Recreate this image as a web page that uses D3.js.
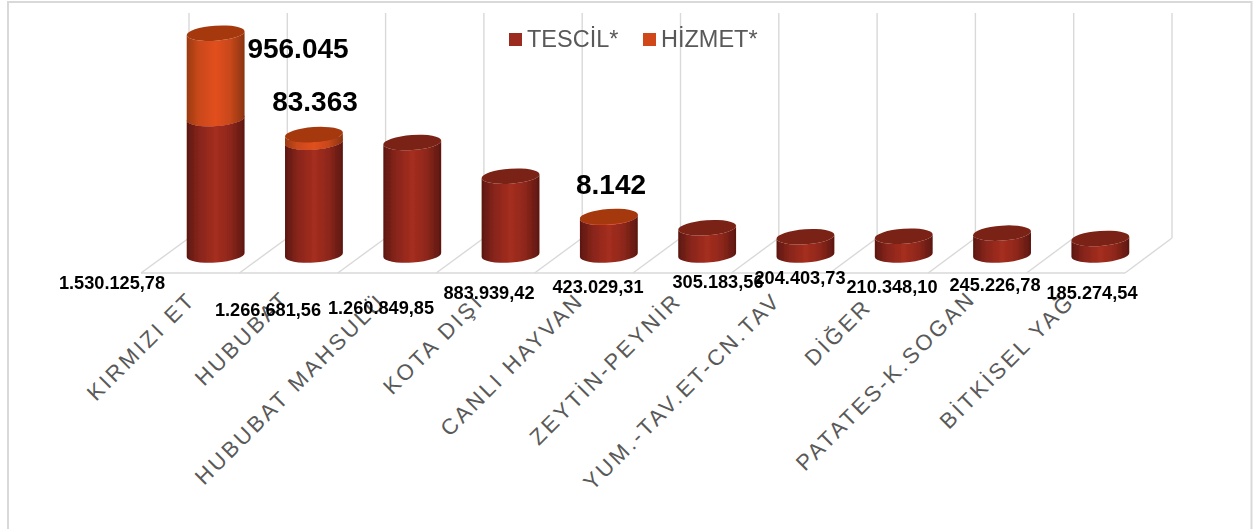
<!DOCTYPE html>
<html><head><meta charset="utf-8">
<script src="https://cdn.jsdelivr.net/npm/d3@7"></script>
<style>html,body{margin:0;padding:0;background:#fff}svg{display:block}</style></head>
<body><svg id="c" width="1253" height="529"></svg>
<script>
const categories = ["KIRMIZI ET","HUBUBAT","HUBUBAT MAHSULÜ","KOTA DIŞI","CANLI HAYVAN","ZEYTİN-PEYNİR","YUM.-TAV.ET-CN.TAV","DİĞER","PATATES-K.SOGAN","BİTKİSEL YAĞ"];
const tescil = [1530125.78,1266681.56,1260849.85,883939.42,423029.31,305183.56,204403.73,210348.10,245226.78,185274.54];
const hizmet = [956045,83363,0,0,8142,0,0,0,0,0];
const tescilLabels = ["1.530.125,78","1.266.681,56","1.260.849,85","883.939,42","423.029,31","305.183,56","204.403,73","210.348,10","245.226,78","185.274,54"];
const hizmetLabels = ["956.045","83.363","","","8.142","","","","",""];
const seriesNames = ["TESCİL*","HİZMET*"];
// manual placement offsets of the labels, as in the source chart
const tescilLabelPos = [[112,283],[268,310],[381,308],[489,293],[598,287],[718,282],[800,278],[892,287],[995,285],[1092,293]];
const hizmetLabelPos = [[298,48],[315,101],null,null,[611,184],null,null,null,null,null];
const tickEnd = [[197,301],[291,300],[387,303],[485,303],[585,302],[683,302],[782,302],[873,308],[977,300],[1076,303]];

const svg = d3.select("#c");
const font = "'Liberation Sans',Arial,sans-serif";
const x = d3.scaleBand().domain(categories).range([166.5,1149.5]).paddingInner(0.41).paddingOuter(0.205);
const y = d3.scaleLinear().domain([0,2500000]).range([255,32]);
const backX = d3.scaleBand().domain(categories).range([189,1172]);
const frontX = d3.scaleBand().domain(categories).range([141,1125]);
const stack = d3.stack().keys([0,1]).value((d,k)=>d[k])(categories.map((c,i)=>[tescil[i],hizmet[i]]));

const defs = svg.append("defs");
function grad(id,stops){
  const g = defs.append("linearGradient").attr("id",id).attr("x1",0).attr("x2",1).attr("y1",0).attr("y2",0);
  stops.forEach(s=>g.append("stop").attr("offset",s[0]).attr("stop-color",s[1]));
}
grad("gT",[[0,"#5c1710"],[0.2,"#85241a"],[0.5,"#a52e20"],[0.75,"#8e271b"],[1,"#5c1710"]]);
grad("gH",[[0,"#9a3a10"],[0.2,"#c8481a"],[0.5,"#e24f1b"],[0.75,"#c8481a"],[1,"#8a3410"]]);
const blur = defs.append("filter").attr("id","soft").attr("x","-5%").attr("y","-5%").attr("width","110%").attr("height","110%");
blur.append("feGaussianBlur").attr("stdDeviation",0.45);

// frame
svg.append("rect").attr("x",8).attr("y",2).attr("width",1243.5).attr("height",540).attr("fill","none").attr("stroke","#d9d9d9").attr("stroke-width",2);

// 3D floor + walls
const grid = svg.append("g").attr("stroke","#d9d9d9").attr("stroke-width",1.4).attr("fill","none");
const backEdges = categories.map(c=>backX(c)).concat([1172]);
const frontEdges = categories.map(c=>frontX(c)).concat([1125]);
backEdges.forEach((bx,i)=>{
  grid.append("line").attr("x1",bx).attr("x2",bx).attr("y1",13).attr("y2",238);
  grid.append("line").attr("x1",frontEdges[i]).attr("x2",bx).attr("y1",273).attr("y2",238);
});
grid.append("line").attr("x1",141).attr("x2",1125).attr("y1",273).attr("y2",273);

// cylinders
const rx = x.bandwidth()/2, ry = 7.5, tilt = -4;
const rad = tilt*Math.PI/180, dx = rx*Math.cos(rad), dy = rx*Math.sin(rad);
const marks = svg.append("g").attr("filter","url(#soft)");
function body(cx,y0,y1){
  return `M${cx-dx},${y0-dy} A${rx},${ry} ${tilt} 0 0 ${cx+dx},${y0+dy} L${cx+dx},${y1+dy} A${rx},${ry} ${tilt} 0 1 ${cx-dx},${y1-dy} Z`;
}
categories.forEach((c,i)=>{
  const cx = x(c)+rx;
  const s0 = stack[0][i], s1 = stack[1][i];
  marks.append("path").attr("d",body(cx,y(s0[0]),y(s0[1]))).attr("fill","url(#gT)");
  if(hizmet[i]>0){
    marks.append("ellipse").attr("cx",cx).attr("cy",y(s0[1])).attr("rx",rx).attr("ry",ry)
      .attr("transform",`rotate(${tilt} ${cx} ${y(s0[1])})`).attr("fill","#a52e20");
    marks.append("path").attr("d",body(cx,y(s0[1]),y(s1[1]))).attr("fill","url(#gH)");
    marks.append("ellipse").attr("cx",cx).attr("cy",y(s1[1])).attr("rx",rx).attr("ry",ry)
      .attr("transform",`rotate(${tilt} ${cx} ${y(s1[1])})`).attr("fill","#a5390f");
  } else {
    marks.append("ellipse").attr("cx",cx).attr("cy",y(s0[1])).attr("rx",rx).attr("ry",ry)
      .attr("transform",`rotate(${tilt} ${cx} ${y(s0[1])})`).attr("fill","#7a2214");
  }
});

// tick labels
svg.append("g").selectAll("text").data(categories).join("text")
  .attr("transform",(d,i)=>`translate(${tickEnd[i][0]},${tickEnd[i][1]}) rotate(-45)`)
  .attr("text-anchor","end")
  .attr("font-family",font).attr("font-size",22).attr("letter-spacing",2.8).attr("fill","#595959")
  .text(d=>d);

// data labels
svg.append("g").selectAll("text").data(tescilLabels).join("text")
  .attr("x",(d,i)=>tescilLabelPos[i][0]).attr("y",(d,i)=>tescilLabelPos[i][1])
  .attr("text-anchor","middle").attr("dominant-baseline","central")
  .attr("font-family",font).attr("font-weight","bold").attr("font-size",18.2).attr("fill","#000")
  .text(d=>d);
svg.append("g").selectAll("text").data(hizmetLabels.map((t,i)=>({t,p:hizmetLabelPos[i]})).filter(d=>d.p)).join("text")
  .attr("x",d=>d.p[0]).attr("y",d=>d.p[1])
  .attr("text-anchor","middle").attr("dominant-baseline","central")
  .attr("font-family",font).attr("font-weight","bold").attr("font-size",28).attr("fill","#000")
  .text(d=>d.t);

// legend
const legX = [509,643], legC = ["#9c2b1f","#d0471a"];
seriesNames.forEach((n,i)=>{
  svg.append("rect").attr("x",legX[i]).attr("y",33).attr("width",13).attr("height",13).attr("fill",legC[i]);
  svg.append("text").attr("x",legX[i]+18).attr("y",47)
    .attr("font-family",font).attr("font-size",23.5).attr("fill","#595959").text(n);
});
</script></body></html>
